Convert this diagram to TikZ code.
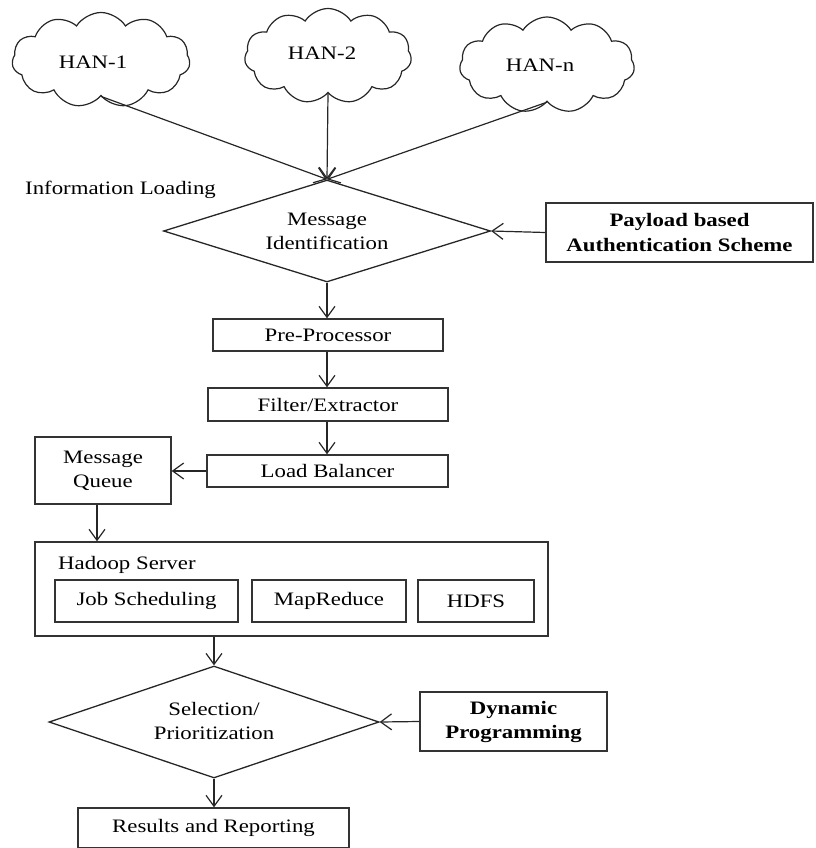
\documentclass[tikz,border=0pt]{standalone}
\usepackage{fontspec}
\setmainfont{Liberation Serif}[FakeStretch=1.2]
\usetikzlibrary{shapes.geometric,shapes.symbols,arrows.meta}
\begin{document}
\begin{tikzpicture}[x=1pt,y=-1pt,
  font=\fontsize{19}{24}\selectfont,
  box/.style={draw=black!80, line width=1.4pt, inner sep=0pt, rectangle, align=center},
  dia/.style={draw=black!85, line width=1.3pt, diamond, inner sep=0pt},
  cld/.style={draw=black!85, line width=1.2pt, cloud, cloud puffs=11, cloud puff arc=115, cloud ignores aspect, inner sep=0pt},
  txt/.style={inner sep=0pt, align=center},
  arr/.style={-{Straight Barb[length=11pt,width=16pt]}, line width=1.2pt, draw=black!85}]
\useasboundingbox (0,0) rectangle (815,848);
% clouds
\node[cld, minimum width=178pt, minimum height=95pt] (han1) at (101,60) {};
\node[txt] (han1t) at (93,62) {HAN-1};
\node[cld, minimum width=167pt, minimum height=95pt] (han2) at (328,56) {};
\node[txt] (han2t) at (322,53) {HAN-2};
\node[cld, minimum width=175pt, minimum height=96pt] (hann) at (547,65) {};
\node[txt] (hannt) at (540,65) {HAN-n};
\node[txt, anchor=west] (info) at (25,190) {Information Loading};
% diamond 1
\node[dia, minimum width=327pt, minimum height=102pt] (d1) at (327,231) {};
\node[txt] (d1t) at (327,231) {Message\\Identification};
\node[box, minimum width=267pt, minimum height=59pt, font=\fontsize{19}{25}\selectfont\bfseries] (pay) at (679.5,232.5) {Payload based\\Authentication Scheme};
% chain
\node[box, minimum width=230pt, minimum height=32pt] (pre) at (328,335) {Pre-Processor};
\node[box, minimum width=240pt, minimum height=33pt] (filt) at (328,404.5) {Filter/Extractor};
\node[box, minimum width=241pt, minimum height=32pt] (lb) at (327.5,471) {Load Balancer};
\node[box, minimum width=136pt, minimum height=67pt] (mq) at (103,470.5) {Message\\Queue};
% hadoop
\node[box, minimum width=513pt, minimum height=94pt] (had) at (291.5,589) {};
\node[txt, anchor=west] (hadt) at (58,565) {Hadoop Server};
\node[box, minimum width=183pt, minimum height=42pt] (job) at (146.5,601) {Job Scheduling};
\node[box, minimum width=154pt, minimum height=42pt] (mr) at (329,601) {MapReduce};
\node[box, minimum width=116pt, minimum height=42pt] (hdfs) at (476,601) {HDFS};
% diamond 2
\node[dia, minimum width=330pt, minimum height=112pt] (d2) at (214,722) {};
\node[txt] (d2t) at (214,721) {Selection/\\Prioritization};
\node[box, minimum width=187pt, minimum height=59pt, font=\fontsize{19}{24}\selectfont\bfseries] (dyn) at (513.5,721.5) {Dynamic\\Programming};
\node[box, minimum width=271pt, minimum height=40pt] (res) at (213.5,828) {Results and Reporting};
% connectors
\draw[arr] (han1.south) -- (d1.north);
\draw[arr] (han2.south) -- (d1.north);
\draw[arr] (hann.south) -- (d1.north);
\draw[arr] (pay.west) -- (d1.east);
\draw[arr] (d1.south) -- (d1.south |- pre.north);
\draw[arr] (d1.south |- pre.south) -- (d1.south |- filt.north);
\draw[arr] (d1.south |- filt.south) -- (d1.south |- lb.north);
\draw[arr] (lb.west) -- (lb.west -| mq.east);
\draw[arr] ([xshift=-6pt]mq.south) -- ([xshift=-6pt]mq.south |- had.north);
\draw[arr] (d2.north |- had.south) -- (d2.north);
\draw[arr] (dyn.west) -- (d2.east);
\draw[arr] (d2.south) -- (d2.south |- res.north);
\end{tikzpicture}
\end{document}
